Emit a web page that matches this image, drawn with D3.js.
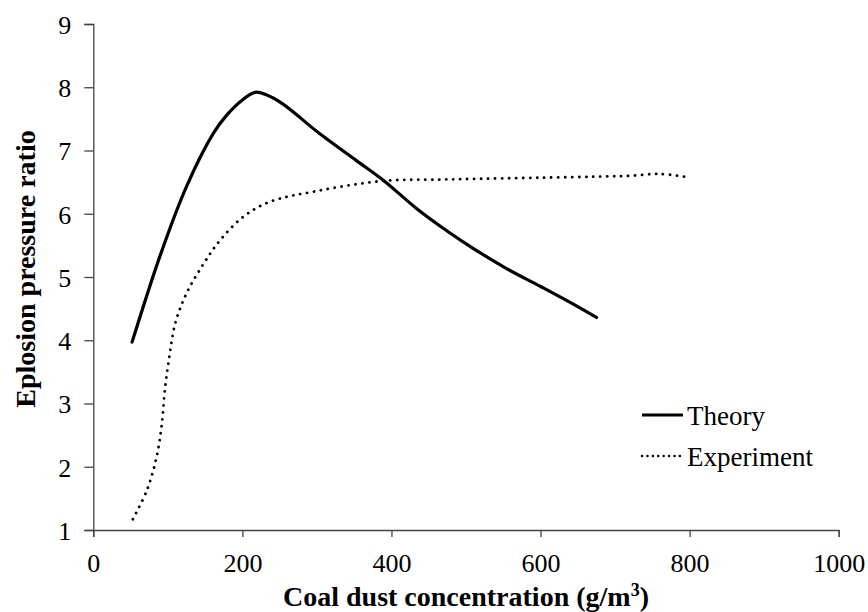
<!DOCTYPE html>
<html>
<head>
<meta charset="utf-8">
<script src="https://cdn.jsdelivr.net/npm/d3@7"></script>
<style>
  html, body { margin: 0; padding: 0; background: #fff; }
  svg { display: block; }
  svg text { font-family: "Liberation Serif", "Times New Roman", serif !important; fill: #000; }
</style>
</head>
<body>
<svg id="chart" width="868" height="612"></svg>
<script>
// ---- data ----
const theoryX = [52, 90, 125, 161, 179, 200, 217, 232, 255, 300, 353, 389, 434, 478, 510, 555, 600, 644, 675];
const theoryY = [3.97, 5.35, 6.43, 7.27, 7.56, 7.8, 7.92, 7.88, 7.73, 7.3, 6.84, 6.53, 6.08, 5.7, 5.45, 5.13, 4.85, 4.57, 4.36];

const experimentX = [53, 72, 85, 92, 96, 102, 110, 125, 148, 170, 201, 237, 300, 389, 465, 505, 599, 689, 720, 760, 796];
const experimentY = [1.17, 1.63, 2.16, 2.68, 3.21, 3.74, 4.27, 4.74, 5.21, 5.58, 5.95, 6.19, 6.36, 6.52, 6.54, 6.55, 6.57, 6.59, 6.6, 6.63, 6.58];

const xTicks = [0, 200, 400, 600, 800, 1000];
const yTicks = [1, 2, 3, 4, 5, 6, 7, 8, 9];
const seriesNames = ["Theory", "Experiment"];
const xTitle = "Coal dust concentration (g/m";
const yTitle = "Eplosion pressure ratio";

// ---- layout ----
const FONT = '"Liberation Serif", "Times New Roman", serif';
const svg = d3.select("#chart");
const x = d3.scaleLinear().domain([0, 1000]).range([93.3, 838.7]);
const y = d3.scaleLinear().domain([1, 9]).range([530, 24]);

// axes
const xAxis = d3.axisBottom(x).tickValues(xTicks).tickSize(7).tickPadding(17).tickFormat(d3.format("d"));
const yAxis = d3.axisLeft(y).tickValues(yTicks).tickSize(9).tickPadding(13).tickFormat(d3.format("d"));

const gx = svg.append("g").attr("transform", `translate(0,${y(1)})`).call(xAxis);
const gy = svg.append("g").attr("transform", `translate(${x(0)},0)`).call(yAxis);

[gx, gy].forEach(g => {
  g.attr("font-family", null).attr("font-size", null);
  g.select(".domain").attr("stroke", "#444").attr("stroke-width", 1.3);
  g.selectAll(".tick line").attr("stroke", "#444").attr("stroke-width", 1.3);
  g.selectAll(".tick text")
    .style("font-family", FONT)
    .style("font-size", "26px").attr("fill", "#000");
});
gy.selectAll(".tick text").attr("dy", "0.36em");

// lines
const line = d3.line().x(d => x(d[0])).y(d => y(d[1])).curve(d3.curveCatmullRom.alpha(0.5));
const theory = theoryX.map((v, i) => [v, theoryY[i]]);
const experiment = experimentX.map((v, i) => [v, experimentY[i]]);

svg.append("path").datum(experiment)
  .attr("d", line).attr("fill", "none").attr("stroke", "#000")
  .attr("stroke-width", 2.8).attr("stroke-linecap", "round")
  .attr("stroke-dasharray", "0.1,6.9");

svg.append("path").datum(theory)
  .attr("d", line).attr("fill", "none").attr("stroke", "#000")
  .attr("stroke-width", 3.2).attr("stroke-linecap", "round");

// legend
const leg = svg.append("g");
leg.append("line").attr("x1", 642).attr("x2", 683).attr("y1", 415).attr("y2", 415)
  .attr("stroke", "#000").attr("stroke-width", 3.2);
leg.append("text").attr("x", 687).attr("y", 425).style("font-family", FONT).style("font-size", "27px").text(seriesNames[0]);
leg.append("line").attr("x1", 642).attr("x2", 680).attr("y1", 456).attr("y2", 456)
  .attr("stroke", "#000").attr("stroke-width", 2.4).attr("stroke-linecap", "round")
  .attr("stroke-dasharray", "0.1,5.3");
leg.append("text").attr("x", 687).attr("y", 466).style("font-family", FONT).style("font-size", "27px").text(seriesNames[1]);

// axis titles
const xt = svg.append("text").attr("x", 466).attr("y", 606)
  .attr("text-anchor", "middle").style("font-family", FONT).style("font-size", "28px").style("font-weight", "bold");
xt.append("tspan").text(xTitle);
xt.append("tspan").style("font-size", "18px").attr("dy", -10).text("3");
xt.append("tspan").attr("dy", 10).text(")");

svg.append("text")
  .attr("transform", `translate(35,269) rotate(-90)`)
  .attr("text-anchor", "middle").style("font-family", FONT).style("font-size", "28px").style("font-weight", "bold")
  .text(yTitle);
</script>
</body>
</html>
